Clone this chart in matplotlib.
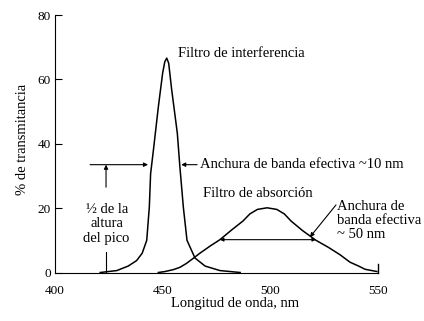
import matplotlib.pyplot as plt

# filtro de interferencia (nm, % T)
wl_int = [421, 428.7, 434, 437.9, 440.5, 442.6, 443.8, 444.4, 445.7, 448.0, 450.0,
          451.0, 451.9, 452.8, 454.2, 456.8, 458.0, 459.6, 461.3, 465.0, 469.7, 476.6, 486]
t_int = [0, 0.6, 2, 3.7, 6, 10, 20.3, 30.7, 38, 51.5, 62,
         65.5, 66.6, 65, 56.7, 43.3, 32.8, 20.3, 10, 4.5, 2, 0.6, 0]

# filtro de absorcion
wl_abs = [448, 451.1, 455, 458.0, 461, 464.2, 467.3, 472, 476.6, 482, 487.3, 490.5, 494,
          498.5, 503, 506.5, 509.6, 515, 521.2, 527, 532.4, 537.0, 541, 544.0, 549.5]
t_abs = [0, 0.3, 0.9, 1.6, 2.8, 4.4, 6.0, 8.2, 10.2, 13.2, 16, 18.2, 19.6,
         20.1, 19.6, 18.2, 16, 13, 10, 7.8, 5.5, 3.2, 2, 1, 0.3]

x_ticks = [400, 450, 500, 550]
y_ticks = [0, 20, 40, 60, 80]

plt.rcParams['font.family'] = ['Liberation Serif', 'DejaVu Serif']
fs = 10.5   # textos del dibujo
fs_tick = 9.5

fig = plt.figure(figsize=(4.24, 3.21), dpi=100)
ax = fig.add_axes([55/424, 48.5/321, 323/424, 257.5/321])

ax.plot(wl_int, t_int, color='black', lw=1.1)
ax.plot(wl_abs, t_abs, color='black', lw=1.1)

ax.set_xlim(400, 550)
ax.set_ylim(0, 80)
ax.spines['top'].set_visible(False)
ax.spines['right'].set_visible(False)
ax.set_xticks(x_ticks)
ax.set_yticks(y_ticks)
ax.tick_params(axis='x', length=0, pad=9, labelsize=fs_tick)
ax.tick_params(axis='y', direction='in', length=5, pad=3, labelsize=fs_tick)
ax.plot([550, 550], [0, 2.6], color='black', lw=1, clip_on=False)

ax.set_ylabel('% de transmitancia', fontsize=fs)
ax.yaxis.set_label_coords(-0.08, 0.515)
ax.set_xlabel('Longitud de onda, nm', fontsize=fs)
ax.xaxis.set_label_coords(0.557, -0.095)

arr = dict(arrowstyle='-|>', lw=0.8, color='black', mutation_scale=6, shrinkA=0, shrinkB=0)

# media altura, filtro de interferencia
ax.annotate('', xy=(443.2, 33.5), xytext=(416.3, 33.5), arrowprops=arr)
ax.annotate('', xy=(458.6, 33.5), xytext=(466, 33.5), arrowprops=arr)
ax.text(467.4, 33.5, 'Anchura de banda efectiva ~10 nm', va='center', ha='left', fontsize=fs)
ax.annotate('', xy=(423.7, 33.5), xytext=(423.7, 26.5), arrowprops=arr)
ax.plot([423.7, 423.7], [0, 6.5], color='black', lw=0.8)
ax.text(424, 15.1, '½ de la\naltura\ndel pico', ha='center', va='center',
        fontsize=fs, linespacing=1.15)

ax.text(457.1, 68, 'Filtro de interferencia', va='center', ha='left', fontsize=fs)
ax.text(468.6, 24.5, 'Filtro de absorción', va='center', ha='left', fontsize=fs)

# media altura, filtro de absorcion
ax.annotate('', xy=(476.6, 10.2), xytext=(521.2, 10.2),
            arrowprops=dict(arrowstyle='<|-|>', lw=0.8, color='black', mutation_scale=5,
                            shrinkA=0, shrinkB=0))
ax.annotate('', xy=(518.4, 11.0), xytext=(530.5, 21.0), arrowprops=arr)
ax.text(531, 16.3, 'Anchura de\nbanda efectiva\n~ 50 nm', va='center', ha='left',
        fontsize=fs, linespacing=1.1)

fig.savefig('out.png', dpi=100)
